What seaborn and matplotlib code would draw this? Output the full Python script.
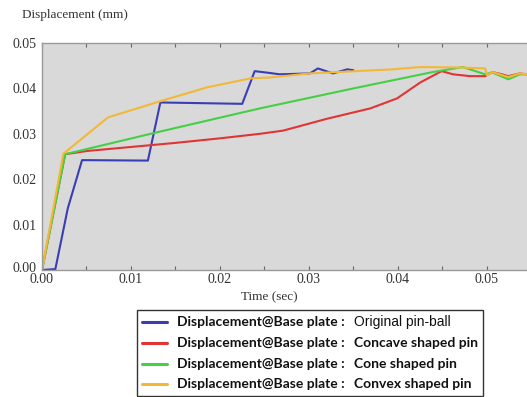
import numpy as np
import pandas as pd
import matplotlib
matplotlib.use("Agg")
import matplotlib.pyplot as plt
import matplotlib.transforms as mtransforms
import seaborn as sns
from matplotlib.lines import Line2D
from matplotlib.offsetbox import AnchoredOffsetbox, HPacker, VPacker, TextArea, DrawingArea
from matplotlib.ticker import MultipleLocator, FormatStrFormatter

# ---------------- data ----------------
series_names = ["Original pin-ball", "Concave shaped pin", "Cone shaped pin", "Convex shaped pin"]
series_colors = ["#3b3db4", "#e03535", "#45cf45", "#f2b836"]
legend_prefix = "Displacement@Base plate :"

time_original = [0, 0.0015, 0.0029, 0.0045, 0.0119, 0.0133, 0.0225, 0.0239, 0.0256, 0.0267,
                 0.0301, 0.0310, 0.0327, 0.0343, 0.0350]
disp_original = [0, 0.0002, 0.0136, 0.0242, 0.0241, 0.0369, 0.0366, 0.0438, 0.0434, 0.0431,
                 0.0433, 0.0444, 0.0433, 0.0442, 0.0440]

time_concave = [0, 0.0026, 0.0050, 0.0100, 0.0150, 0.0200, 0.0245, 0.0271, 0.0320, 0.0369, 0.0399,
                0.0425, 0.0449, 0.0462, 0.0481, 0.0498, 0.0506, 0.0517, 0.0524, 0.0537, 0.0545]
disp_concave = [0, 0.0255, 0.0262, 0.0271, 0.0280, 0.0290, 0.0300, 0.0307, 0.0333, 0.0356, 0.0378,
                0.0413, 0.0438, 0.0431, 0.0427, 0.0427, 0.0436, 0.0431, 0.0427, 0.0433, 0.0431]

time_cone = [0, 0.0026, 0.0135, 0.0245, 0.0350, 0.0439, 0.0473, 0.0498, 0.0506, 0.0524, 0.0537, 0.0545]
disp_cone = [0, 0.0255, 0.0306, 0.0356, 0.0400, 0.0436, 0.0447, 0.0431, 0.0435, 0.0420, 0.0431, 0.0431]

time_convex = [0, 0.0024, 0.0074, 0.0135, 0.0185, 0.0234, 0.0256, 0.0301, 0.0394, 0.0425, 0.0470,
               0.0498, 0.0500, 0.0506, 0.0524, 0.0537, 0.0545]
disp_convex = [0, 0.0256, 0.0336, 0.0373, 0.0402, 0.0422, 0.0424, 0.0433, 0.0442, 0.0447, 0.0446,
               0.0444, 0.0429, 0.0436, 0.0425, 0.0433, 0.0431]

x_ticks = [0.00, 0.01, 0.02, 0.03, 0.04, 0.05]
y_ticks = [0.00, 0.01, 0.02, 0.03, 0.04, 0.05]

frames = []
for name, t, d in zip(series_names,
                      [time_original, time_concave, time_cone, time_convex],
                      [disp_original, disp_concave, disp_cone, disp_convex]):
    frames.append(pd.DataFrame({"time": t, "disp": d, "series": name, "order": range(len(t))}))
df = pd.concat(frames, ignore_index=True)

# ---------------- plot ----------------
sns.set_style("ticks", {"axes.facecolor": "#d9d9d9"})
plt.rcParams["font.family"] = ["Liberation Serif", "DejaVu Serif"]

fig = plt.figure(figsize=(5.27, 3.97), dpi=100)
ax = fig.add_axes([42 / 527, 1 - 270 / 397, 485 / 527, 227 / 397])

sns.lineplot(data=df, x="time", y="disp", hue="series", hue_order=series_names,
             palette=dict(zip(series_names, series_colors)), sort=False, estimator=None,
             units="series", linewidth=1.5, legend=False, ax=ax)

ax.set_xlim(0, 0.0545)
ax.set_ylim(0, 0.05)
ax.set_xticks(x_ticks)
ax.set_yticks(y_ticks)
ax.xaxis.set_major_formatter(FormatStrFormatter("%.2f"))
ax.yaxis.set_major_formatter(FormatStrFormatter("%.2f"))
ax.xaxis.set_minor_locator(MultipleLocator(0.005))
ax.tick_params(axis="x", which="both", direction="in", top=True, bottom=True,
               length=3, width=0.8, color="#666666", labelsize=10, pad=2, labelcolor="#333333")
ax.tick_params(axis="y", which="both", direction="in", left=False, length=0,
               labelsize=10, pad=4, labelcolor="#333333")
for side in ["top", "left", "bottom"]:
    ax.spines[side].set_color("#9a9a9a")
    ax.spines[side].set_linewidth(1.0)
ax.spines["right"].set_visible(False)

ax.set_ylabel("")
ax.set_xlabel("Time (sec)", fontsize=9.5, color="#333333")
ax.xaxis.set_label_coords((269 - 42) / 485, -0.095)
fig.text(22 / 527, 1 - 15 / 397, "Displacement (mm)", fontsize=9.5, color="#333333",
         ha="left", va="center")

# nudge the y "0.00" label up slightly so it does not collide with the x "0.00"
fig.canvas.draw()
ylabels = ax.get_yticklabels()
if ylabels:
    ylabels[0].set_transform(ylabels[0].get_transform() +
                             mtransforms.ScaledTranslation(0, 3 / 100, fig.dpi_scale_trans))

# ---------------- legend ----------------
rows = []
for i, (name, col) in enumerate(zip(series_names, series_colors)):
    da = DrawingArea(18, 10, 0, 0)
    da.add_artist(Line2D([0, 18], [5, 5], color=col, linewidth=2.2))
    t1 = TextArea(legend_prefix, textprops=dict(family=["Lato", "DejaVu Sans"], weight="bold",
                                                 size=10, color="#111111"))
    if i == 0:
        t2 = TextArea(name, textprops=dict(family=["Liberation Sans", "DejaVu Sans"],
                                            size=10, color="#111111"))
    else:
        t2 = TextArea(name, textprops=dict(family=["Lato", "DejaVu Sans"], weight="bold",
                                            size=10, color="#111111"))
    rows.append(HPacker(children=[da, t1, t2], sep=7, align="center", pad=0))
vp = VPacker(children=rows, sep=5, align="left", pad=0)
ab = AnchoredOffsetbox(loc="upper left", child=vp, pad=0.35, borderpad=0, frameon=True,
                       bbox_to_anchor=(137 / 527, 1 - 310 / 397), bbox_transform=fig.transFigure)
ab.patch.set_edgecolor("#333333")
ab.patch.set_linewidth(1.0)
ab.patch.set_boxstyle("square", pad=0)
fig.add_artist(ab)

fig.savefig("out.png", dpi=100, facecolor="white")
